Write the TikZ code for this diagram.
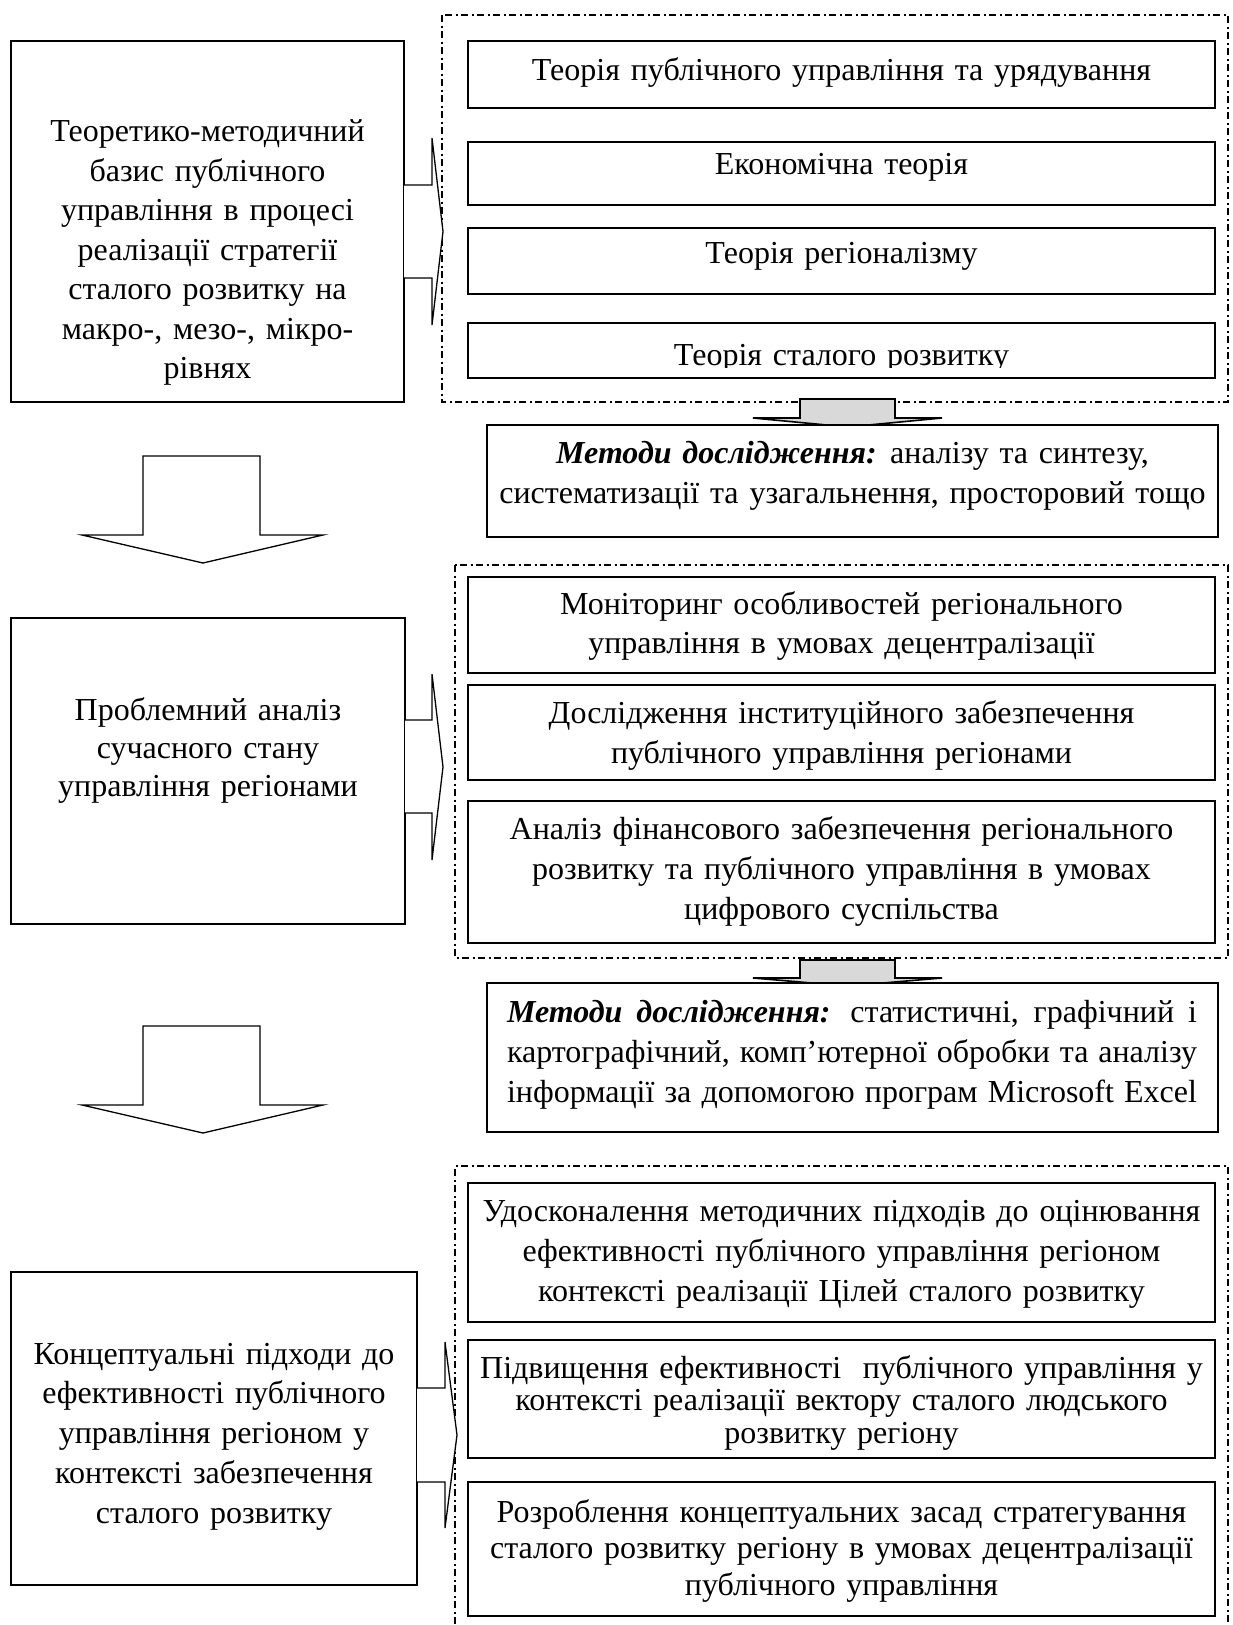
\documentclass[tikz,border=0pt]{standalone}
\usepackage{fontspec}
\setmainfont{Liberation Serif}[WordSpace=1.35]
\definecolor{arrowgrey}{HTML}{D9D9D9}
\newcommand\fsz[1]{\fontsize{32}{#1}\selectfont}
\begin{document}
\begin{tikzpicture}[x=1pt,y=-1pt,
  frame/.style={draw, line width=1.6pt, inner sep=0pt, fill=white},
  txt/.style={align=center, inner sep=0pt, font=\fsz{39.5}},
  dashframe/.style={line width=1.8pt, dash pattern=on 7pt off 3.5pt on 2pt off 3.5pt},
  blockarrow/.style={draw, line width=1.3pt, fill=white, line join=miter},
  greyarrow/.style={draw, line width=1.6pt, fill=arrowgrey}]
\useasboundingbox (0,0) rectangle (1233,1625);

% ---------- left column boxes ----------
\node[frame, minimum width=393pt, minimum height=361pt] (L1) at (207.5,221.5) {};
\node[txt] (L1t) at (207.5,252.5) {Теоретико-методичний\\базис публічного\\управління в процесі\\реалізації стратегії\\сталого розвитку на\\макро-, мезо-, мікро-\\рівнях};

\node[frame, minimum width=394pt, minimum height=306pt] (L2) at (208,771) {};
\node[txt, font=\fsz{38}] (L2t) at (208,750) {Проблемний аналіз\\сучасного стану\\управління регіонами};

\node[frame, minimum width=406pt, minimum height=313pt] (L3) at (214,1428.5) {};
\node[txt, font=\fsz{39.8}] (L3t) at (214,1436.5) {Концептуальні підходи до\\ефективності публічного\\управління регіоном у\\контексті забезпечення\\сталого розвитку};

% ---------- big down arrows ----------
\draw[blockarrow] (143,456)--(260,456)--(260,535)--(323,535)--(203,563)--(82,535)--(143,535)--cycle;
\draw[blockarrow] (143,1026)--(260,1026)--(260,1105)--(323,1105)--(203,1133)--(82,1105)--(143,1105)--cycle;

% ---------- group 1 ----------
\draw[dashframe] (442,15) rectangle (1228,402);
\node[frame, minimum width=747pt, minimum height=67pt] (a1) at (841.5,74.5) {};
\node[txt] (a1t) at (841.5,72.5) {Теорія публічного управління та урядування};
\node[frame, minimum width=747pt, minimum height=63pt] (a2) at (841.5,173.5) {};
\node[txt] (a2t) at (841.5,167) {Економічна теорія};
\node[frame, minimum width=747pt, minimum height=66pt] (a3) at (841.5,261) {};
\node[txt] (a3t) at (841.5,256) {Теорія регіоналізму};
\node[frame, minimum width=747pt, minimum height=55pt] (a4) at (841.5,350.5) {};
\begin{scope}
\clip (468,323) rectangle (1215,367);
\node[txt, anchor=base] (a4t) at (841.5,365) {Теорія сталого розвитку};
\end{scope}

\draw[blockarrow] (404,185) -- (432,185) -- (432,138) -- (443,231.5) -- (432,325) -- (432,278) -- (404,278);

\draw[greyarrow] (800,399)--(895,399)--(895,418)--(942,418)--(847.5,427)--(753,418)--(800,418)--cycle;
\node[frame, minimum width=731pt, minimum height=112pt] (M1) at (852.5,481) {};
\node[txt, font=\fsz{40}] (M1t) at (852.5,476) {\textbf{\textit{Методи дослідження:}} аналізу та синтезу,\\систематизації та узагальнення, просторовий тощо};

% ---------- group 2 ----------
\draw[dashframe] (455,565) rectangle (1228,958);
\node[frame, minimum width=747pt, minimum height=96pt] (b1) at (841.5,625) {};
\node[txt, font=\fsz{39}] (b1t) at (841.5,625.5) {Моніторинг особливостей регіонального\\управління в умовах децентралізації};
\node[frame, minimum width=747pt, minimum height=95pt] (b2) at (841.5,732.5) {};
\node[txt, font=\fsz{40}] (b2t) at (841.5,735) {Дослідження інституційного забезпечення\\публічного управління регіонами};
\node[frame, minimum width=747pt, minimum height=142pt] (b3) at (841.5,872) {};
\node[txt, font=\fsz{40}] (b3t) at (841.5,871.5) {Аналіз фінансового забезпечення регіонального\\розвитку та публічного управління в умовах\\цифрового суспільства};

\draw[blockarrow] (405,720) -- (432,720) -- (432,674) -- (443,767) -- (432,860) -- (432,813) -- (405,813);

\draw[greyarrow] (800,960)--(895,960)--(895,978)--(942,978)--(847.5,986)--(753,978)--(800,978)--cycle;
\node[frame, minimum width=731pt, minimum height=149pt] (M2) at (852.5,1057.5) {};
\node[inner sep=0pt, text width=690pt, align=justify, font=\fsz{40}] (M2t) at (852,1055) {\textbf{\textit{Методи дослідження:}} статистичні, графічний і\linebreak картографічний, комп’ютерної обробки та аналізу\linebreak інформації за допомогою програм Microsoft Excel};

% ---------- group 3 ----------
\draw[dashframe] (455,1640) -- (455,1166) -- (1228,1166) -- (1228,1640);
\node[frame, minimum width=747pt, minimum height=139pt] (c1) at (841.5,1252.5) {};
\node[txt, font=\fsz{40}] (c1t) at (841.5,1254) {Удосконалення методичних підходів до оцінювання\\ефективності публічного управління регіоном\\контексті реалізації Цілей сталого розвитку};
\node[frame, minimum width=747pt, minimum height=118pt] (c2) at (841.5,1399) {};
\node[txt, font=\fsz{32.5}] (c2t) at (841.5,1402.5) {Підвищення ефективності~ публічного управління у\\контексті реалізації вектору сталого людського\\розвитку регіону};
\node[frame, minimum width=747pt, minimum height=134pt] (c3) at (841.5,1549) {};
\node[txt, font=\fsz{36.5}] (c3t) at (841.5,1550.5) {Розроблення концептуальних засад стратегування\\сталого розвитку регіону в умовах децентралізації\\публічного управління};

\draw[blockarrow] (417,1388) -- (445,1388) -- (445,1342) -- (457,1435) -- (445,1528) -- (445,1482) -- (417,1482);
\end{tikzpicture}
\end{document}
